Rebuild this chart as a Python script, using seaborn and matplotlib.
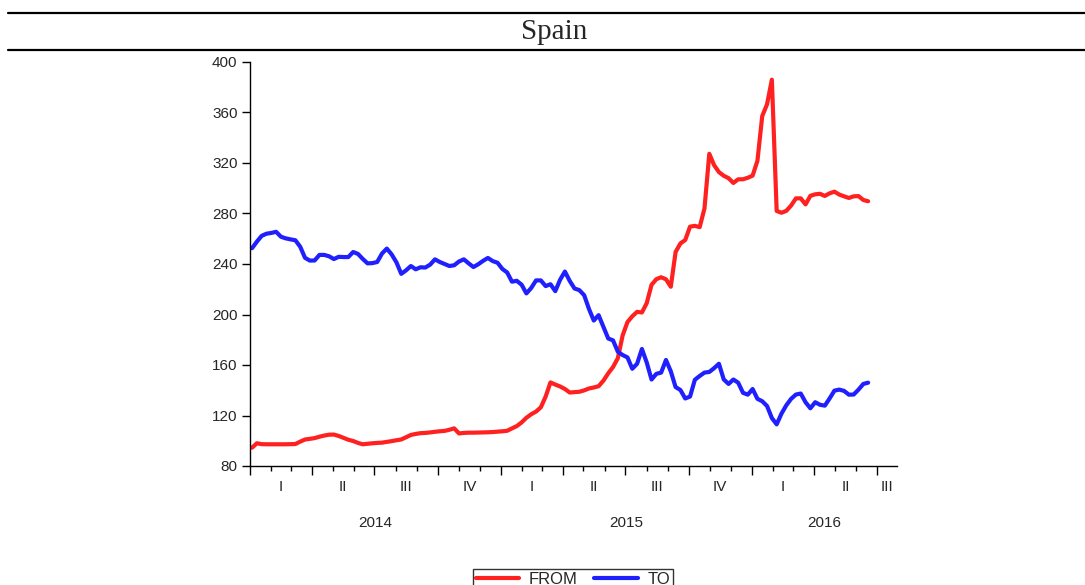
import numpy as np
import pandas as pd
import matplotlib.pyplot as plt
import matplotlib.dates as mdates
from matplotlib.lines import Line2D
import seaborn as sns

# =========================
# DATA (weekly)
# =========================

from_vals = [
    94.5, 98.0, 97.3, 97.2, 97.2, 97.2, 97.2, 97.2, 97.3, 97.4,
    99.3, 101.0, 101.5, 102.1, 103.2, 104.1, 104.8, 104.9, 103.8, 102.3,
    100.8, 99.8, 98.3, 97.2, 97.6, 98.0, 98.3, 98.5, 99.1, 99.7,
    100.4, 101.0, 102.8, 104.6, 105.4, 106.0, 106.2, 106.6, 107.1, 107.5,
    107.8, 108.7, 109.8, 105.8, 106.2, 106.4, 106.4, 106.5, 106.6, 106.7,
    106.9, 107.2, 107.5, 107.9, 109.8, 111.6, 114.5, 118.2, 121.0, 123.1,
    126.5, 135.0, 146.2, 144.5, 143.0, 141.0, 138.2, 138.5, 138.8, 139.9,
    141.4, 142.2, 143.2, 147.6, 153.4, 158.4, 165.4, 183.5, 194.0, 198.6,
    202.1, 201.6, 209.0, 223.5, 228.0, 229.5, 227.9, 222.0, 249.5, 256.3,
    259.0, 269.6, 270.2, 269.2, 284.0, 327.3, 318.3, 312.8, 309.9, 308.0,
    304.2, 307.1, 307.1, 308.3, 310.0, 321.7, 357.2, 366.5, 386.0, 282.0,
    280.6, 282.1, 286.3, 292.0, 292.0, 287.2, 294.0, 295.2, 295.6, 293.9,
    296.0, 297.3, 295.0, 293.6, 292.3, 293.6, 293.8, 290.7, 289.7,
]

to_vals = [
    252.5, 257.7, 262.3, 264.0, 264.6, 265.5, 261.6, 260.3, 259.5, 258.8,
    253.7, 244.9, 242.7, 242.8, 247.2, 247.2, 246.1, 243.9, 245.7, 245.5,
    245.5, 249.5, 248.0, 244.0, 240.5, 240.7, 241.6, 248.3, 252.2, 247.6,
    241.3, 232.2, 235.0, 238.4, 235.8, 237.4, 237.2, 239.5, 243.7, 241.6,
    240.0, 238.4, 239.0, 242.0, 243.7, 240.5, 237.6, 239.8, 242.5, 244.8,
    242.3, 241.0, 236.1, 233.3, 226.0, 226.7, 223.6, 216.7, 221.0, 227.0,
    227.0, 222.5, 224.0, 218.5, 227.5, 234.0, 226.6, 220.6, 219.3, 215.3,
    204.4, 195.2, 199.5, 190.2, 181.0, 179.5, 170.5, 167.9, 166.0, 157.0,
    161.0, 172.7, 162.0, 148.5, 153.0, 154.0, 164.0, 155.0, 142.5, 140.2,
    133.5, 135.0, 148.3, 151.3, 154.0, 154.5, 157.5, 161.0, 148.6, 145.0,
    148.5, 146.0, 138.0, 136.5, 141.0, 133.2, 131.3, 127.5, 118.0, 113.0,
    121.5, 128.1, 133.2, 136.6, 137.4, 130.5, 125.7, 130.5, 128.5, 127.8,
    133.5, 139.7, 140.5, 139.5, 136.5, 136.6, 140.5, 145.0, 146.0,
]

series_names = ["FROM", "TO"]
series_colors = {"FROM": "#ff2020", "TO": "#2020ff"}
quarter_names = ["I", "II", "III", "IV"]
years = [2014, 2015, 2016]
y_ticks = [80, 120, 160, 200, 240, 280, 320, 360, 400]

n = len(from_vals)
dates = pd.date_range("2014-01-04", periods=n, freq="7D")
df = pd.DataFrame({
    "date": list(dates) * 2,
    "value": from_vals + to_vals,
    "series": ["FROM"] * n + ["TO"] * n,
})

x_start = pd.Timestamp("2014-01-01")
x_end = pd.Timestamp("2016-07-30")

# =========================
# PLOT
# =========================

sns.set_style("ticks")
plt.rcParams["font.family"] = ["Liberation Sans", "DejaVu Sans"]

W, H = 1085, 585
fig = plt.figure(figsize=(W / 100, H / 100), dpi=100)
ax = fig.add_axes([250 / W, 1 - 466 / H, 647 / W, 404 / H])

sns.lineplot(data=df, x="date", y="value", hue="series",
             palette=series_colors, linewidth=3, legend=False, ax=ax)

ax.set_xlim(x_start, x_end)
ax.set_ylim(80, 400)
ax.set_yticks(y_ticks)
ax.xaxis.set_major_locator(mdates.MonthLocator(bymonth=[1, 4, 7, 10]))
ax.xaxis.set_minor_locator(mdates.MonthLocator())
ax.xaxis.set_major_formatter(plt.NullFormatter())
ax.tick_params(axis="x", which="major", length=6.5, width=1, color="black")
ax.tick_params(axis="x", which="minor", length=3.6, width=1, color="black")
ax.tick_params(axis="y", length=6, width=1, labelsize=11, pad=3, color="black")
ax.set_xlabel("")
ax.set_ylabel("")
sns.despine(ax=ax)
for sp in ["left", "bottom"]:
    ax.spines[sp].set_color("black")
    ax.spines[sp].set_linewidth(1)

# quarter and year labels under the axis
trans = ax.get_xaxis_transform()
for q in pd.date_range(x_start, x_end, freq="QS"):
    q_end = min(q + pd.DateOffset(months=3), x_end)
    mid = q + (q_end - q) / 2
    ax.text(mdates.date2num(mid), -0.053, quarter_names[(q.month - 1) // 3],
            transform=trans, ha="center", va="center", fontsize=11)

for yr in years:
    y0 = pd.Timestamp(f"{yr}-01-01")
    y1 = min(pd.Timestamp(f"{yr + 1}-01-01"), x_end)
    mid = y0 + (y1 - y0) / 2
    ax.text(mdates.date2num(mid), -0.141, str(yr),
            transform=trans, ha="center", va="center", fontsize=11)

# title band
fig.add_artist(Line2D([8 / W, 1], [1 - 13 / H] * 2, color="black", lw=1.6))
fig.add_artist(Line2D([8 / W, 1], [1 - 49.5 / H] * 2, color="black", lw=1.6))
fig.text(554 / W, 1 - 32 / H, "Spain", family=["Liberation Serif", "DejaVu Serif"],
         fontsize=21, ha="center", va="center")

# legend
handles = [Line2D([], [], color=series_colors[s], lw=3) for s in series_names]
leg = fig.legend(handles, series_names, loc="upper center",
                 bbox_to_anchor=(573 / W, 1 - 561 / H), ncol=2,
                 frameon=True, fancybox=False, edgecolor="black",
                 fontsize=12, handlelength=2.6, handletextpad=0.6,
                 columnspacing=1.0, borderpad=0.15)
leg.get_frame().set_linewidth(1)

fig.savefig("out.png", dpi=100)
